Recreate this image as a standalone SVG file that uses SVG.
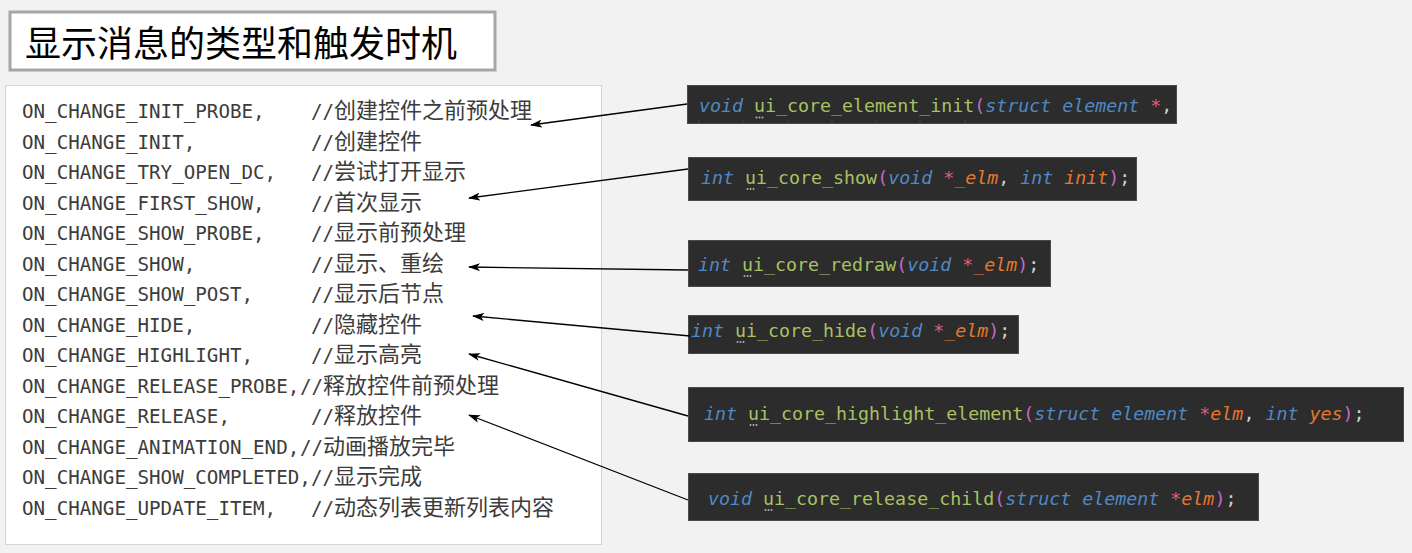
<svg xmlns="http://www.w3.org/2000/svg" width="1412" height="553" viewBox="0 0 1412 553">
<defs>
<marker id="ah" viewBox="0 0 12 8" refX="11" refY="4" markerWidth="12" markerHeight="8" markerUnits="userSpaceOnUse" orient="auto">
<path d="M0,0 L12,4 L0,8 L3,4 z" fill="#000"/>
</marker>
<style>
.mono{font-family:"DejaVu Sans Mono","Liberation Mono",monospace;font-size:19.2px;fill:#3c3c3c}
.cjk{font-family:"Noto Sans CJK SC","Noto Sans",sans-serif;font-size:22px;fill:#3c3c3c}
.box{fill:#2c2c2c;stroke:#4a4a4a;stroke-width:1}
.code{font-family:"DejaVu Sans Mono","Liberation Mono",monospace;font-size:18.3px}
.kw{fill:#5089c6;font-style:italic}
.fn{fill:#a8c163}
.pa{fill:#c468cc}
.st{fill:#d9607c}
.pr{fill:#e6772f;font-style:italic}
.pu{fill:#d0d0d0}
.dot{fill:#b0b0b0}
.conn{stroke:#000;stroke-width:1.3;fill:none;marker-end:url(#ah)}
</style>
</defs>
<rect width="1412" height="553" fill="#f2f2f2"/>
<g id="title">
<rect x="10" y="12" width="485" height="58" fill="#fff" stroke="#a6a6a6" stroke-width="3"/>
<text x="25" y="57" font-family="Noto Sans CJK SC, sans-serif" font-size="36" fill="#000">显示消息的类型和触发时机</text>
</g>
<g id="enum-list">
<rect x="5.5" y="85.5" width="596" height="459" fill="#fff" stroke="#d4d4d4" stroke-width="1"/>
<text class="mono" x="22" y="118">ON_CHANGE_INIT_PROBE,<tspan x="311">//</tspan><tspan class="cjk">创建控件之前预处理</tspan></text>
<text class="mono" x="22" y="148.5">ON_CHANGE_INIT,<tspan x="311">//</tspan><tspan class="cjk">创建控件</tspan></text>
<text class="mono" x="22" y="179">ON_CHANGE_TRY_OPEN_DC,<tspan x="311">//</tspan><tspan class="cjk">尝试打开显示</tspan></text>
<text class="mono" x="22" y="209.5">ON_CHANGE_FIRST_SHOW,<tspan x="311">//</tspan><tspan class="cjk">首次显示</tspan></text>
<text class="mono" x="22" y="240">ON_CHANGE_SHOW_PROBE,<tspan x="311">//</tspan><tspan class="cjk">显示前预处理</tspan></text>
<text class="mono" x="22" y="270.5">ON_CHANGE_SHOW,<tspan x="311">//</tspan><tspan class="cjk">显示、重绘</tspan></text>
<text class="mono" x="22" y="301">ON_CHANGE_SHOW_POST,<tspan x="311">//</tspan><tspan class="cjk">显示后节点</tspan></text>
<text class="mono" x="22" y="331.5">ON_CHANGE_HIDE,<tspan x="311">//</tspan><tspan class="cjk">隐藏控件</tspan></text>
<text class="mono" x="22" y="362">ON_CHANGE_HIGHLIGHT,<tspan x="311">//</tspan><tspan class="cjk">显示高亮</tspan></text>
<text class="mono" x="22" y="392.5">ON_CHANGE_RELEASE_PROBE,<tspan x="300">//</tspan><tspan class="cjk">释放控件前预处理</tspan></text>
<text class="mono" x="22" y="423">ON_CHANGE_RELEASE,<tspan x="311">//</tspan><tspan class="cjk">释放控件</tspan></text>
<text class="mono" x="22" y="453.5">ON_CHANGE_ANIMATION_END,<tspan x="300">//</tspan><tspan class="cjk">动画播放完毕</tspan></text>
<text class="mono" x="22" y="484">ON_CHANGE_SHOW_COMPLETED,<tspan x="311">//</tspan><tspan class="cjk">显示完成</tspan></text>
<text class="mono" x="22" y="514.5">ON_CHANGE_UPDATE_ITEM,<tspan x="311">//</tspan><tspan class="cjk">动态列表更新列表内容</tspan></text>
</g>
<g id="fn-element-init">
<rect class="box" x="687.5" y="85.5" width="489" height="38"/>
<g stroke="#444" stroke-width="1"><line x1="699" y1="120" x2="699" y2="123"/><line x1="743" y1="120" x2="743" y2="123"/><line x1="788" y1="120" x2="788" y2="123"/><line x1="832" y1="120" x2="832" y2="123"/><line x1="876" y1="120" x2="876" y2="123"/><line x1="920" y1="120" x2="920" y2="123"/><line x1="965" y1="120" x2="965" y2="123"/></g>
<text class="code" x="699" y="112" xml:space="preserve"><tspan class="kw">void</tspan> <tspan class="fn">ui_core_element_init</tspan><tspan class="pa">(</tspan><tspan class="kw">struct</tspan> <tspan class="kw">element</tspan> <tspan class="st">*</tspan><tspan class="pu">,</tspan></text>
<circle class="dot" cx="756.5" cy="117.5" r="1"/><circle class="dot" cx="759.5" cy="117.5" r="1"/><circle class="dot" cx="762.5" cy="117.5" r="1"/>
</g>
<g id="fn-show">
<rect class="box" x="688.5" y="157.5" width="448" height="43"/>
<text class="code" x="701" y="184" xml:space="preserve"><tspan class="kw">int</tspan> <tspan class="fn">ui_core_show</tspan><tspan class="pa">(</tspan><tspan class="kw">void</tspan> <tspan class="st">*</tspan><tspan class="pr">_elm</tspan><tspan class="pu">,</tspan> <tspan class="kw">int</tspan> <tspan class="pr">init</tspan><tspan class="pa">)</tspan><tspan class="pu">;</tspan></text>
<circle class="dot" cx="747.5" cy="189" r="1"/><circle class="dot" cx="750.5" cy="189" r="1"/><circle class="dot" cx="753.5" cy="189" r="1"/>
</g>
<g id="fn-redraw">
<rect class="box" x="688.5" y="240.5" width="362" height="46"/>
<text class="code" x="698" y="271" xml:space="preserve"><tspan class="kw">int</tspan> <tspan class="fn">ui_core_redraw</tspan><tspan class="pa">(</tspan><tspan class="kw">void</tspan> <tspan class="st">*</tspan><tspan class="pr">_elm</tspan><tspan class="pa">)</tspan><tspan class="pu">;</tspan></text>
<circle class="dot" cx="744.5" cy="276" r="1"/><circle class="dot" cx="747.5" cy="276" r="1"/><circle class="dot" cx="750.5" cy="276" r="1"/>
</g>
<g id="fn-hide">
<rect class="box" x="688.5" y="315.5" width="330" height="38"/>
<text class="code" x="691" y="337" xml:space="preserve"><tspan class="kw">int</tspan> <tspan class="fn">ui_core_hide</tspan><tspan class="pa">(</tspan><tspan class="kw">void</tspan> <tspan class="st">*</tspan><tspan class="pr">_elm</tspan><tspan class="pa">)</tspan><tspan class="pu">;</tspan></text>
<circle class="dot" cx="737.5" cy="342" r="1"/><circle class="dot" cx="740.5" cy="342" r="1"/><circle class="dot" cx="743.5" cy="342" r="1"/>
</g>
<g id="fn-highlight">
<rect class="box" x="688.5" y="387.5" width="715" height="54"/>
<text class="code" x="704" y="420" xml:space="preserve"><tspan class="kw">int</tspan> <tspan class="fn">ui_core_highlight_element</tspan><tspan class="pa">(</tspan><tspan class="kw">struct</tspan> <tspan class="kw">element</tspan> <tspan class="st">*</tspan><tspan class="pr">elm</tspan><tspan class="pu">,</tspan> <tspan class="kw">int</tspan> <tspan class="pr">yes</tspan><tspan class="pa">)</tspan><tspan class="pu">;</tspan></text>
<circle class="dot" cx="750.5" cy="425" r="1"/><circle class="dot" cx="753.5" cy="425" r="1"/><circle class="dot" cx="756.5" cy="425" r="1"/>
</g>
<g id="fn-release-child">
<rect class="box" x="688.5" y="473.5" width="570" height="47"/>
<text class="code" x="708" y="505" xml:space="preserve"><tspan class="kw">void</tspan> <tspan class="fn">ui_core_release_child</tspan><tspan class="pa">(</tspan><tspan class="kw">struct</tspan> <tspan class="kw">element</tspan> <tspan class="st">*</tspan><tspan class="pr">elm</tspan><tspan class="pa">)</tspan><tspan class="pu">;</tspan></text>
<circle class="dot" cx="765.5" cy="510" r="1"/><circle class="dot" cx="768.5" cy="510" r="1"/><circle class="dot" cx="771.5" cy="510" r="1"/>
</g>
<g id="connectors">
<line class="conn" x1="687" y1="104" x2="531" y2="125"/>
<line class="conn" x1="688" y1="169" x2="469" y2="198"/>
<line class="conn" x1="688" y1="270" x2="469" y2="267"/>
<line class="conn" x1="690" y1="336" x2="473" y2="316"/>
<line class="conn" x1="688" y1="416" x2="469" y2="354"/>
<line class="conn" x1="688" y1="500" x2="469" y2="415"/>
</g>
</svg>
